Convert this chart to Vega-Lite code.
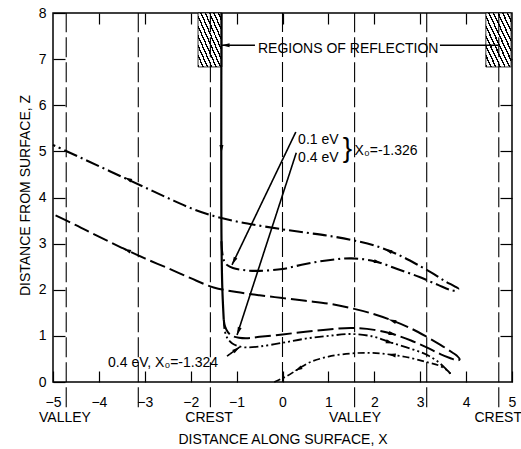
{
"$schema": "https://vega.github.io/schema/vega-lite/v6.json",
"width": 459, "height": 369,
"autosize": {"type": "none"},
"padding": {"left": 53, "top": 13, "right": 9, "bottom": 67},
"background": "white",
"config": {
 "view": {"stroke": "black", "strokeWidth": 1.5},
 "axis": {"grid": false, "domain": false, "tickColor": "black", "labelColor": "black", "titleColor": "black", "labelFont": "Liberation Sans", "titleFont": "Liberation Sans", "labelFontSize": 14, "titleFontSize": 14, "titleFontWeight": "normal", "tickWidth": 1.2},
 "text": {"font": "Liberation Sans", "color": "black"}
},
"datasets": {
 "hatch": [{"x1": -1.84, "x2": -1.32, "z1": 6.83, "z2": 8}, {"x1": 4.43, "x2": 4.98, "z1": 6.83, "z2": 8}],
 "guides": [{"x": -4.712, "z0": -0.55, "z1": 8}, {"x": -3.142, "z0": -0.55, "z1": 8}, {"x": -1.571, "z0": -0.55, "z1": 8}, {"x": 0, "z0": 0, "z1": 8}, {"x": 1.571, "z0": -0.55, "z1": 8}, {"x": 3.142, "z0": -0.55, "z1": 8}, {"x": 4.712, "z0": -0.55, "z1": 8}],
 "curves": [
  {"g": "in", "s": "solid2", "i": 0, "x": -1.33, "z": 8},
  {"g": "in", "s": "solid2", "i": 1, "x": -1.33, "z": 3.2},
  {"g": "in", "s": "solid2", "i": 2, "x": -1.31, "z": 2.0},
  {"g": "in", "s": "solid2", "i": 3, "x": -1.28, "z": 1.35},
  {"g": "T1", "s": "dd", "i": 0, "x": -1.33, "z": 3.05},
  {"g": "T1", "s": "dd", "i": 1, "x": -1.31, "z": 2.78},
  {"g": "T1", "s": "dd", "i": 2, "x": -1.27, "z": 2.62},
  {"g": "T1", "s": "dd", "i": 3, "x": -1.2, "z": 2.53},
  {"g": "T1", "s": "dd", "i": 4, "x": -1.08, "z": 2.47},
  {"g": "T1", "s": "dd", "i": 5, "x": -0.8, "z": 2.42},
  {"g": "T1", "s": "dd", "i": 6, "x": -0.5, "z": 2.41},
  {"g": "T1", "s": "dd", "i": 7, "x": 0.0, "z": 2.45},
  {"g": "T1", "s": "dd", "i": 8, "x": 0.5, "z": 2.56},
  {"g": "T1", "s": "dd", "i": 9, "x": 1.0, "z": 2.64},
  {"g": "T1", "s": "dd", "i": 10, "x": 1.5, "z": 2.68},
  {"g": "T1", "s": "dd", "i": 11, "x": 2.0, "z": 2.62},
  {"g": "T1", "s": "dd", "i": 12, "x": 2.5, "z": 2.45},
  {"g": "T1", "s": "dd", "i": 13, "x": 3.0, "z": 2.27},
  {"g": "T1", "s": "dd", "i": 14, "x": 3.4, "z": 2.1},
  {"g": "T1", "s": "dd", "i": 15, "x": 3.65, "z": 2.0},
  {"g": "T1", "s": "dd", "i": 16, "x": 3.78, "z": 1.98},
  {"g": "T1", "s": "dd", "i": 17, "x": 3.83, "z": 2.02},
  {"g": "T1", "s": "dd", "i": 18, "x": 3.76, "z": 2.07},
  {"g": "T1", "s": "dd", "i": 19, "x": 3.55, "z": 2.18},
  {"g": "T1", "s": "dd", "i": 20, "x": 3.3, "z": 2.34},
  {"g": "T1", "s": "dd", "i": 21, "x": 3.0, "z": 2.51},
  {"g": "T1", "s": "dd", "i": 22, "x": 2.5, "z": 2.77},
  {"g": "T1", "s": "dd", "i": 23, "x": 2.0, "z": 2.96},
  {"g": "T1", "s": "dd", "i": 24, "x": 1.5, "z": 3.08},
  {"g": "T1", "s": "dd", "i": 25, "x": 1.0, "z": 3.17},
  {"g": "T1", "s": "dd", "i": 26, "x": 0.5, "z": 3.24},
  {"g": "T1", "s": "dd", "i": 27, "x": 0.0, "z": 3.31},
  {"g": "T1", "s": "dd", "i": 28, "x": -0.5, "z": 3.39},
  {"g": "T1", "s": "dd", "i": 29, "x": -1.0, "z": 3.48},
  {"g": "T1", "s": "dd", "i": 30, "x": -1.5, "z": 3.6},
  {"g": "T1", "s": "dd", "i": 31, "x": -2.0, "z": 3.77},
  {"g": "T1", "s": "dd", "i": 32, "x": -2.5, "z": 3.99},
  {"g": "T1", "s": "dd", "i": 33, "x": -3.0, "z": 4.22},
  {"g": "T1", "s": "dd", "i": 34, "x": -3.5, "z": 4.45},
  {"g": "T1", "s": "dd", "i": 35, "x": -4.0, "z": 4.68},
  {"g": "T1", "s": "dd", "i": 36, "x": -4.5, "z": 4.91},
  {"g": "T1", "s": "dd", "i": 37, "x": -5.0, "z": 5.14},
  {"g": "T2", "s": "ld", "i": 0, "x": -1.28, "z": 1.35},
  {"g": "T2", "s": "ld", "i": 1, "x": -1.25, "z": 1.2},
  {"g": "T2", "s": "ld", "i": 2, "x": -1.19, "z": 1.08},
  {"g": "T2", "s": "ld", "i": 3, "x": -1.1, "z": 1.0},
  {"g": "T2", "s": "ld", "i": 4, "x": -0.95, "z": 0.96},
  {"g": "T2", "s": "ld", "i": 5, "x": -0.75, "z": 0.95},
  {"g": "T2", "s": "ld", "i": 6, "x": -0.5, "z": 0.98},
  {"g": "T2", "s": "ld", "i": 7, "x": 0.0, "z": 1.03},
  {"g": "T2", "s": "ld", "i": 8, "x": 0.5, "z": 1.09},
  {"g": "T2", "s": "ld", "i": 9, "x": 1.0, "z": 1.14},
  {"g": "T2", "s": "ld", "i": 10, "x": 1.5, "z": 1.17},
  {"g": "T2", "s": "ld", "i": 11, "x": 2.0, "z": 1.13},
  {"g": "T2", "s": "ld", "i": 12, "x": 2.4, "z": 1.04},
  {"g": "T2", "s": "ld", "i": 13, "x": 2.8, "z": 0.9},
  {"g": "T2", "s": "ld", "i": 14, "x": 3.14, "z": 0.75},
  {"g": "T2", "s": "ld", "i": 15, "x": 3.45, "z": 0.6},
  {"g": "T2", "s": "ld", "i": 16, "x": 3.7, "z": 0.5},
  {"g": "T2", "s": "ld", "i": 17, "x": 3.8, "z": 0.46},
  {"g": "T2", "s": "ld", "i": 18, "x": 3.86, "z": 0.49},
  {"g": "T2", "s": "ld", "i": 19, "x": 3.8, "z": 0.57},
  {"g": "T2", "s": "ld", "i": 20, "x": 3.7, "z": 0.64},
  {"g": "T2", "s": "ld", "i": 21, "x": 3.45, "z": 0.8},
  {"g": "T2", "s": "ld", "i": 22, "x": 3.14, "z": 0.98},
  {"g": "T2", "s": "ld", "i": 23, "x": 2.8, "z": 1.16},
  {"g": "T2", "s": "ld", "i": 24, "x": 2.4, "z": 1.33},
  {"g": "T2", "s": "ld", "i": 25, "x": 2.0, "z": 1.47},
  {"g": "T2", "s": "ld", "i": 26, "x": 1.5, "z": 1.6},
  {"g": "T2", "s": "ld", "i": 27, "x": 1.0, "z": 1.7},
  {"g": "T2", "s": "ld", "i": 28, "x": 0.5, "z": 1.76},
  {"g": "T2", "s": "ld", "i": 29, "x": 0.0, "z": 1.82},
  {"g": "T2", "s": "ld", "i": 30, "x": -0.5, "z": 1.88},
  {"g": "T2", "s": "ld", "i": 31, "x": -1.0, "z": 1.95},
  {"g": "T2", "s": "ld", "i": 32, "x": -1.5, "z": 2.05},
  {"g": "T2", "s": "ld", "i": 33, "x": -2.0, "z": 2.25},
  {"g": "T2", "s": "ld", "i": 34, "x": -2.5, "z": 2.47},
  {"g": "T2", "s": "ld", "i": 35, "x": -3.0, "z": 2.68},
  {"g": "T2", "s": "ld", "i": 36, "x": -3.5, "z": 2.91},
  {"g": "T2", "s": "ld", "i": 37, "x": -4.0, "z": 3.15},
  {"g": "T2", "s": "ld", "i": 38, "x": -4.5, "z": 3.4},
  {"g": "T2", "s": "ld", "i": 39, "x": -5.0, "z": 3.64},
  {"g": "T3a", "s": "ddd", "i": 0, "x": -1.28, "z": 1.35},
  {"g": "T3a", "s": "ddd", "i": 1, "x": -1.26, "z": 1.12},
  {"g": "T3a", "s": "ddd", "i": 2, "x": -1.2, "z": 0.95},
  {"g": "T3a", "s": "ddd", "i": 3, "x": -1.1, "z": 0.84},
  {"g": "T3a", "s": "ddd", "i": 4, "x": -0.97, "z": 0.78},
  {"g": "T3a", "s": "ddd", "i": 5, "x": -0.8, "z": 0.75},
  {"g": "T3a", "s": "ddd", "i": 6, "x": -0.5, "z": 0.77},
  {"g": "T3a", "s": "ddd", "i": 7, "x": 0.0, "z": 0.85},
  {"g": "T3a", "s": "ddd", "i": 8, "x": 0.5, "z": 0.94},
  {"g": "T3a", "s": "ddd", "i": 9, "x": 1.0, "z": 1.0},
  {"g": "T3a", "s": "ddd", "i": 10, "x": 1.5, "z": 1.04},
  {"g": "T3a", "s": "ddd", "i": 11, "x": 2.0, "z": 0.98},
  {"g": "T3a", "s": "ddd", "i": 12, "x": 2.35, "z": 0.86},
  {"g": "T3a", "s": "ddd", "i": 13, "x": 2.8, "z": 0.72},
  {"g": "T3a", "s": "ddd", "i": 14, "x": 3.14, "z": 0.59},
  {"g": "T3a", "s": "ddd", "i": 15, "x": 3.4, "z": 0.43},
  {"g": "T3a", "s": "ddd", "i": 16, "x": 3.57, "z": 0.27},
  {"g": "T3a", "s": "ddd", "i": 17, "x": 3.66, "z": 0.18},
  {"g": "T3b", "s": "sd", "i": 0, "x": 3.66, "z": 0.18},
  {"g": "T3b", "s": "sd", "i": 1, "x": 3.58, "z": 0.26},
  {"g": "T3b", "s": "sd", "i": 2, "x": 3.4, "z": 0.36},
  {"g": "T3b", "s": "sd", "i": 3, "x": 3.14, "z": 0.43},
  {"g": "T3b", "s": "sd", "i": 4, "x": 2.8, "z": 0.52},
  {"g": "T3b", "s": "sd", "i": 5, "x": 2.38, "z": 0.59},
  {"g": "T3b", "s": "sd", "i": 6, "x": 1.95, "z": 0.63},
  {"g": "T3b", "s": "sd", "i": 7, "x": 1.5, "z": 0.62},
  {"g": "T3b", "s": "sd", "i": 8, "x": 1.0, "z": 0.55},
  {"g": "T3b", "s": "sd", "i": 9, "x": 0.6, "z": 0.43},
  {"g": "T3b", "s": "sd", "i": 10, "x": 0.34, "z": 0.28},
  {"g": "T3b", "s": "sd", "i": 11, "x": 0.1, "z": 0.13},
  {"g": "T3b", "s": "sd", "i": 12, "x": -0.18, "z": 0.0},
  {"g": "L1", "s": "thin", "i": 0, "x": 0.29, "z": 5.42},
  {"g": "L1", "s": "thin", "i": 1, "x": -1.1, "z": 2.54},
  {"g": "L2", "s": "thin", "i": 0, "x": 0.3, "z": 4.97},
  {"g": "L2", "s": "thin", "i": 1, "x": -0.99, "z": 1.02},
  {"g": "L3", "s": "thin", "i": 0, "x": -1.21, "z": 0.56},
  {"g": "L3", "s": "thin", "i": 1, "x": -0.93, "z": 0.76},
  {"g": "R1", "s": "thin", "i": 0, "x": -1.33, "z": 7.3},
  {"g": "R1", "s": "thin", "i": 1, "x": -0.6, "z": 7.3},
  {"g": "R2", "s": "thin", "i": 0, "x": 3.43, "z": 7.3},
  {"g": "R2", "s": "thin", "i": 1, "x": 4.7, "z": 7.3}
 ],
 "arrows": [
  {"x": -1.33, "z": 5.05, "ang": 180},
  {"x": -3.37, "z": 4.4, "ang": -65},
  {"x": 2.3, "z": 2.85, "ang": -68},
  {"x": 2.08, "z": 2.6, "ang": 104},
  {"x": -3.39, "z": 2.86, "ang": -66},
  {"x": 2.39, "z": 1.33, "ang": -69},
  {"x": 2.4, "z": 1.04, "ang": 105},
  {"x": 2.34, "z": 0.86, "ang": 106},
  {"x": 2.38, "z": 0.59, "ang": -80},
  {"x": 0.34, "z": 0.28, "ang": -117},
  {"x": -1.24, "z": 7.3, "ang": -90},
  {"x": -1.06, "z": 2.62, "ang": -154},
  {"x": -0.96, "z": 1.1, "ang": -161},
  {"x": -1.0, "z": 0.71, "ang": 54}
 ],
 "notes": [
  {"x": -0.534, "z": 7.14, "t": "REGIONS OF REFLECTION"},
  {"x": 0.34, "z": 5.16, "t": "0.1 eV"},
  {"x": 0.34, "z": 4.78, "t": "0.4 eV"},
  {"x": 1.57, "z": 4.92, "t": "X₀=-1.326"},
  {"x": -3.8, "z": 0.325, "t": "0.4 eV, X₀=-1.324"}
 ],
 "brace": [{"x": 1.31, "z": 4.88, "t": "}"}],
 "places": [
  {"x": -4.74, "z": -0.87, "t": "VALLEY"},
  {"x": -1.6, "z": -0.87, "t": "CREST"},
  {"x": 1.58, "z": -0.87, "t": "VALLEY"},
  {"x": 4.7, "z": -0.87, "t": "CREST"}
 ]
},
"resolve": {"scale": {"x": "shared", "y": "shared"}, "axis": {"x": "independent", "y": "independent"}},
"layer": [
 {
  "data": {"name": "hatch"},
  "mark": {"type": "rect", "stroke": "black", "strokeWidth": 0.8,
   "fill": {"gradient": "linear", "x1": 0, "y1": 1, "x2": 1, "y2": 0, "stops": [
    {"offset": 0, "color": "#000"}, {"offset": 0.03, "color": "#000"}, {"offset": 0.03, "color": "#fff"}, {"offset": 0.0909, "color": "#fff"},
    {"offset": 0.0909, "color": "#000"}, {"offset": 0.1209, "color": "#000"}, {"offset": 0.1209, "color": "#fff"}, {"offset": 0.1818, "color": "#fff"},
    {"offset": 0.1818, "color": "#000"}, {"offset": 0.2118, "color": "#000"}, {"offset": 0.2118, "color": "#fff"}, {"offset": 0.2727, "color": "#fff"},
    {"offset": 0.2727, "color": "#000"}, {"offset": 0.3027, "color": "#000"}, {"offset": 0.3027, "color": "#fff"}, {"offset": 0.3636, "color": "#fff"},
    {"offset": 0.3636, "color": "#000"}, {"offset": 0.3936, "color": "#000"}, {"offset": 0.3936, "color": "#fff"}, {"offset": 0.4545, "color": "#fff"},
    {"offset": 0.4545, "color": "#000"}, {"offset": 0.4845, "color": "#000"}, {"offset": 0.4845, "color": "#fff"}, {"offset": 0.5455, "color": "#fff"},
    {"offset": 0.5455, "color": "#000"}, {"offset": 0.5755, "color": "#000"}, {"offset": 0.5755, "color": "#fff"}, {"offset": 0.6364, "color": "#fff"},
    {"offset": 0.6364, "color": "#000"}, {"offset": 0.6664, "color": "#000"}, {"offset": 0.6664, "color": "#fff"}, {"offset": 0.7273, "color": "#fff"},
    {"offset": 0.7273, "color": "#000"}, {"offset": 0.7573, "color": "#000"}, {"offset": 0.7573, "color": "#fff"}, {"offset": 0.8182, "color": "#fff"},
    {"offset": 0.8182, "color": "#000"}, {"offset": 0.8482, "color": "#000"}, {"offset": 0.8482, "color": "#fff"}, {"offset": 0.9091, "color": "#fff"},
    {"offset": 0.9091, "color": "#000"}, {"offset": 0.9391, "color": "#000"}, {"offset": 0.9391, "color": "#fff"}, {"offset": 1, "color": "#fff"}
   ]}},
  "encoding": {
   "x": {"field": "x1", "type": "quantitative", "scale": {"domain": [-5, 5], "nice": false, "zero": false},
    "axis": {"orient": "top", "labels": false, "title": null, "values": [-4, -3, -2, -1, 0, 1, 2, 3, 4], "tickSize": -11}},
   "x2": {"field": "x2"},
   "y": {"field": "z1", "type": "quantitative", "scale": {"domain": [0, 8], "nice": false, "zero": false},
    "axis": {"orient": "right", "labels": false, "title": null, "values": [1, 2, 3, 4, 5, 6, 7], "tickSize": -12}},
   "y2": {"field": "z2"}
  }
 },
 {
  "data": {"name": "guides"},
  "mark": {"type": "rule", "color": "black", "strokeDash": [20, 5], "strokeWidth": 1.1},
  "encoding": {
   "x": {"field": "x", "type": "quantitative", "scale": {"domain": [-5, 5], "nice": false, "zero": false}, "axis": null},
   "y": {"field": "z0", "type": "quantitative", "scale": {"domain": [0, 8], "nice": false, "zero": false}, "axis": null},
   "y2": {"field": "z1"}
  }
 },
 {
  "data": {"name": "curves"},
  "mark": {"type": "line", "interpolate": "catmull-rom", "color": "black"},
  "encoding": {
   "x": {"field": "x", "type": "quantitative", "scale": {"domain": [-5, 5], "nice": false, "zero": false},
    "axis": {"orient": "bottom", "values": [-5, -4, -3, -2, -1, 0, 1, 2, 3, 4, 5], "format": "d", "tickSize": -11, "labelPadding": 24, "labelFlush": false, "labelOverlap": false, "labelBound": false,
     "title": "DISTANCE ALONG SURFACE, X", "titleX": 229.5, "titleY": 61, "titleBaseline": "alphabetic"}},
   "y": {"field": "z", "type": "quantitative", "scale": {"domain": [0, 8], "nice": false, "zero": false},
    "axis": {"orient": "left", "values": [0, 1, 2, 3, 4, 5, 6, 7, 8], "tickSize": -12, "labelPadding": 19,
     "title": "DISTANCE FROM SURFACE, Z", "titleX": -28, "titleY": 182, "titleBaseline": "middle", "titleAngle": -90}},
   "order": {"field": "i", "type": "quantitative"},
   "detail": {"field": "g", "type": "nominal"},
   "strokeDash": {"field": "s", "type": "nominal", "legend": null,
    "scale": {"domain": ["solid2", "dd", "ld", "ddd", "sd", "thin"], "range": [[1, 0], [14, 4, 2, 4], [16, 5], [9, 3, 2, 3, 2, 3], [7, 3, 2, 3], [1, 0]]}},
   "strokeWidth": {"field": "s", "type": "nominal", "legend": null,
    "scale": {"domain": ["solid2", "dd", "ld", "ddd", "sd", "thin"], "range": [2.2, 1.6, 1.7, 1.6, 1.6, 0.9]}}
  }
 },
 {
  "data": {"name": "arrows"},
  "mark": {"type": "point", "shape": "M0,-1L0.5,1L-0.5,1Z", "filled": true, "color": "black", "size": 64, "opacity": 1},
  "encoding": {
   "x": {"field": "x", "type": "quantitative", "scale": {"domain": [-5, 5], "nice": false, "zero": false}, "axis": null},
   "y": {"field": "z", "type": "quantitative", "scale": {"domain": [0, 8], "nice": false, "zero": false}, "axis": null},
   "angle": {"field": "ang", "type": "quantitative", "scale": null}
  }
 },
 {
  "data": {"name": "notes"},
  "mark": {"type": "text", "align": "left", "baseline": "alphabetic", "fontSize": 14},
  "encoding": {
   "x": {"field": "x", "type": "quantitative", "scale": {"domain": [-5, 5], "nice": false, "zero": false}, "axis": null},
   "y": {"field": "z", "type": "quantitative", "scale": {"domain": [0, 8], "nice": false, "zero": false}, "axis": null},
   "text": {"field": "t"}
  }
 },
 {
  "data": {"name": "brace"},
  "mark": {"type": "text", "align": "left", "baseline": "alphabetic", "fontSize": 28},
  "encoding": {
   "x": {"field": "x", "type": "quantitative", "scale": {"domain": [-5, 5], "nice": false, "zero": false}, "axis": null},
   "y": {"field": "z", "type": "quantitative", "scale": {"domain": [0, 8], "nice": false, "zero": false}, "axis": null},
   "text": {"field": "t"}
  }
 },
 {
  "data": {"name": "places"},
  "mark": {"type": "text", "align": "center", "baseline": "alphabetic", "fontSize": 14},
  "encoding": {
   "x": {"field": "x", "type": "quantitative", "scale": {"domain": [-5, 5], "nice": false, "zero": false}, "axis": null},
   "y": {"field": "z", "type": "quantitative", "scale": {"domain": [0, 8], "nice": false, "zero": false}, "axis": null},
   "text": {"field": "t"}
  }
 }
]
}
